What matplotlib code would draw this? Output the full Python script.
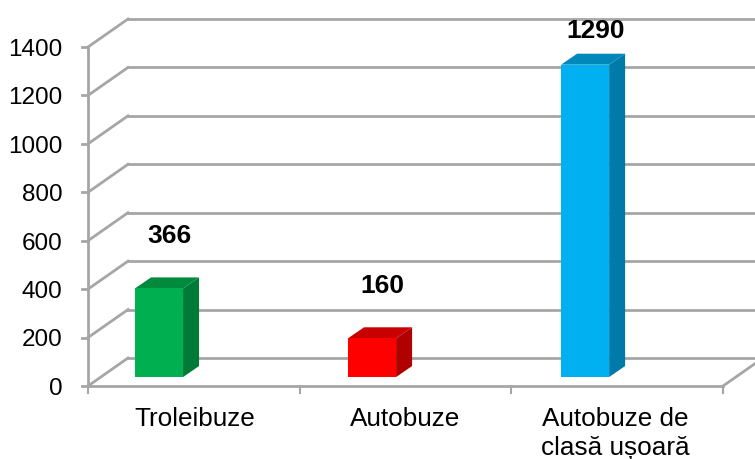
import matplotlib
matplotlib.use('Agg')
import matplotlib.pyplot as plt
from matplotlib.patches import Polygon

plt.rcParams['font.family'] = ['Liberation Sans', 'DejaVu Sans']

# Datos
categorias = ['Troleibuze', 'Autobuze', 'Autobuze de\nclasă ușoară']
valores = [366, 160, 1290]
cara = ['#00b050', '#ff0000', '#00b0f0']
lateral = ['#007a37', '#b00000', '#007aa8']
techo = ['#008a3e', '#c80000', '#0088bb']
y_ticks = [0, 200, 400, 600, 800, 1000, 1200, 1400]

# Profundidad del falso 3D, en unidades de datos
prof_x = 40 / 635 * 3
prof_y = 28 * 1400 / 339
gris = '#a6a6a6'

fig = plt.figure(figsize=(7.55, 4.59), dpi=100)
ax = fig.add_axes([88 / 755, (459 - 386) / 459, 635 / 755, 339 / 459])
ax.set_xlim(0, 3)
ax.set_ylim(0, 1400)
ax.axis('off')

# Rejilla de la pared y lineas diagonales
for v in y_ticks:
    ax.plot([0, prof_x], [v, v + prof_y], color=gris, lw=2, clip_on=False, zorder=1)
    ax.plot([prof_x, 3.3], [v + prof_y, v + prof_y], color=gris, lw=2, clip_on=False, zorder=1)
    ax.plot([-0.028, 0], [v, v], color=gris, lw=2, clip_on=False, zorder=2)

# Ejes delanteros
ax.plot([0, 0], [0, 1400], color=gris, lw=2, clip_on=False, zorder=2)
ax.plot([0, 3], [0, 0], color=gris, lw=2, clip_on=False, zorder=2)
ax.plot([3, 3 + prof_x], [0, prof_y], color=gris, lw=2, clip_on=False, zorder=1)
for i in range(4):
    ax.plot([i, i], [0, -30], color=gris, lw=1.5, clip_on=False, zorder=2)

for v in y_ticks:
    ax.text(-0.122, v - 12, str(v), ha='right', va='center', fontsize=17.5, color='black')

# Barras
ancho = 0.227
lado_x = 16 / 635 * 3
lado_y = 11 * 1400 / 339
base_y = 37
etiqueta_x = [0.505, 1.5, 2.49]
sep_valor = [216, 216, 140]
for i, v in enumerate(valores):
    x0 = 0.222 + i * 1.0065
    x1 = x0 + ancho
    b = base_y
    t = base_y + v
    ax.add_patch(Polygon([(x1, b), (x1 + lado_x, b + lado_y), (x1 + lado_x, t + lado_y), (x1, t)],
                         color=lateral[i], lw=0, zorder=4, clip_on=False))
    ax.add_patch(Polygon([(x0, t), (x1, t), (x1 + lado_x, t + lado_y), (x0 + lado_x, t + lado_y)],
                         color=techo[i], lw=0, zorder=4, clip_on=False))
    ax.add_patch(Polygon([(x0, b), (x1, b), (x1, t), (x0, t)],
                         color=cara[i], lw=0, zorder=5, clip_on=False))
    ax.text(x0 + ancho / 2 + 0.05, t + sep_valor[i], str(v), ha='center', va='center',
            fontsize=19, fontweight='bold', color='black', zorder=6)
    ax.text(etiqueta_x[i], -85, categorias[i], ha='center', va='top', fontsize=18.8,
            color='black', linespacing=1.28)

plt.savefig('out.png', dpi=100)
